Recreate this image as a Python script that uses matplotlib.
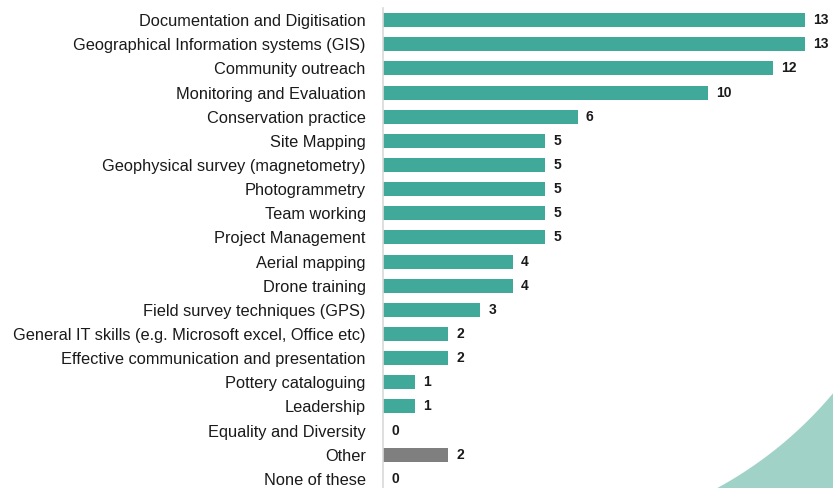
import numpy as np
import matplotlib
matplotlib.use('Agg')
import matplotlib.pyplot as plt
from matplotlib.patches import Polygon

plt.rcParams['font.family'] = ['Liberation Sans', 'DejaVu Sans']

# 数据
categories = [
    "Documentation and Digitisation",
    "Geographical Information systems (GIS)",
    "Community outreach",
    "Monitoring and Evaluation",
    "Conservation practice",
    "Site Mapping",
    "Geophysical survey (magnetometry)",
    "Photogrammetry",
    "Team working",
    "Project Management",
    "Aerial mapping",
    "Drone training",
    "Field survey techniques (GPS)",
    "General IT skills (e.g. Microsoft excel, Office etc)",
    "Effective communication and presentation",
    "Pottery cataloguing",
    "Leadership",
    "Equality and Diversity",
    "Other",
    "None of these",
]
counts = [13, 13, 12, 10, 6, 5, 5, 5, 5, 5, 4, 4, 3, 2, 2, 1, 1, 0, 2, 0]
teal = '#40a999'
grey = '#7f7f7f'
colors = [grey if c == "Other" else teal for c in categories]

W, H = 833, 488
fig = plt.figure(figsize=(W / 100, H / 100), dpi=100)
ax = fig.add_axes([383 / W, -3 / H, 1 - 383 / W, 483 / H])

y = np.arange(len(categories))
ax.barh(y, counts, height=0.58, color=colors, zorder=2)
for yi, v in zip(y, counts):
    ax.text(v + 0.25, yi, str(v), va='center', ha='left', fontsize=10,
            fontweight='bold', color='#1a1a1a', clip_on=False)

ax.set_yticks(y)
ax.set_yticklabels(categories, fontsize=11.8, color='#1a1a1a')
ax.set_ylim(len(categories) - 0.5, -0.5)
ax.set_xlim(0, (W - 383) / 32.46)
ax.set_xticks([])
ax.tick_params(axis='y', length=0, pad=12.5)
for s in ['top', 'right', 'bottom']:
    ax.spines[s].set_visible(False)
ax.spines['left'].set_color('#d9d9d9')
ax.spines['left'].set_linewidth(1.2)

# 右下角装饰曲线
cx, cy, r = 525, 135, 402
a0 = np.arctan2(393 - cy, 833 - cx)
a1 = np.arctan2(488 - cy, 717 - cx)
ang = np.linspace(a0, a1, 60)
pts = [(cx + r * np.cos(a), cy + r * np.sin(a)) for a in ang]
pts += [(W, H)]
pts = [(px / W, 1 - py / H) for px, py in pts]
fig.patches.append(Polygon(pts, closed=True, transform=fig.transFigure,
                           facecolor='#a0d2c8', edgecolor='none', zorder=0))

fig.savefig('out.png', dpi=100)
